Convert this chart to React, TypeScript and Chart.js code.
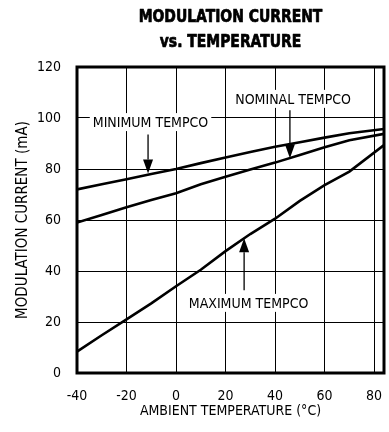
import React, { useEffect, useRef } from "react";
import { Chart, registerables } from "chart.js";

Chart.register(...registerables);

const temps = [-40, -30, -20, -10, 0, 10, 20, 30, 40, 50, 60, 70, 84];
const minimumTempco = [72, 74, 76, 78, 80, 82.3, 84.5, 86.7, 88.7, 90.5, 92.3, 94, 95.7];
const nominalTempco = [59, 62, 65, 67.8, 70.5, 74, 77, 79.8, 82.5, 85.5, 88.5, 91.3, 93.8];
const maximumTempco = [8.4, 14.8, 21, 27.3, 34, 40.5, 47.8, 54.5, 60.5, 67.5, 73.7, 79, 89.4];

const xTicks = [-40, -20, 0, 20, 40, 60, 80];
const yTicks = [0, 20, 40, 60, 80, 100, 120];

const titleLines = ["MODULATION CURRENT", "vs. TEMPERATURE"];
const xTitle = "AMBIENT TEMPERATURE (°C)";
const yTitle = "MODULATION CURRENT (mA)";

// annotation: label text, label center (data), arrow start (data), arrow tip (data)
const annotations = [
  { text: "MINIMUM TEMPCO", lx: -10.3, ly: 98.4, ax: -11.3, ay0: 93.5, ay1: 78.2 },
  { text: "NOMINAL TEMPCO", lx: 47.3, ly: 107.5, ax: 46, ay0: 103, ay1: 84.2 },
  { text: "MAXIMUM TEMPCO", lx: 29.3, ly: 27.5, ax: 27.5, ay0: 32.5, ay1: 52.8 },
];

const FONT = "'Liberation Sans Narrow', 'DejaVu Sans Condensed', 'Liberation Sans', Arial, sans-serif";

const overlayPlugin = {
  id: "overlay",
  afterDatasetsDraw(chart: any) {
    const { ctx, chartArea, scales } = chart;
    const xs = scales.x;
    const ys = scales.y;
    ctx.save();
    // annotations
    ctx.font = `14px ${FONT}`;
    ctx.textAlign = "center";
    ctx.textBaseline = "middle";
    for (const a of annotations) {
      const cx = xs.getPixelForValue(a.lx);
      const cy = ys.getPixelForValue(a.ly);
      const w = ctx.measureText(a.text).width;
      ctx.fillStyle = "#fff";
      ctx.fillRect(cx - w / 2 - 3, cy - 9, w + 6, 18);
      ctx.fillStyle = "#000";
      ctx.fillText(a.text, cx, cy + 1);
      const ax = xs.getPixelForValue(a.ax);
      const y0 = ys.getPixelForValue(a.ay0);
      const y1 = ys.getPixelForValue(a.ay1);
      const dir = y1 > y0 ? 1 : -1;
      const headLen = 14;
      ctx.strokeStyle = "#000";
      ctx.lineWidth = 1.3;
      ctx.beginPath();
      ctx.moveTo(ax, y0);
      ctx.lineTo(ax, y1 - dir * headLen);
      ctx.stroke();
      ctx.beginPath();
      ctx.moveTo(ax, y1);
      ctx.lineTo(ax - 5, y1 - dir * headLen);
      ctx.lineTo(ax + 5, y1 - dir * headLen);
      ctx.closePath();
      ctx.fill();
    }
    // frame
    ctx.strokeStyle = "#000";
    ctx.lineWidth = 3;
    ctx.strokeRect(chartArea.left, chartArea.top, chartArea.right - chartArea.left, chartArea.bottom - chartArea.top);
    // title (condensed, heavy)
    ctx.font = `bold 18px ${FONT}`;
    ctx.fillStyle = "#000";
    ctx.lineWidth = 0.7;
    ctx.lineJoin = "round";
    const tx = (chartArea.left + chartArea.right) / 2;
    ctx.translate(tx, 0);
    ctx.scale(0.86, 1);
    ctx.fillText(titleLines[0], 0, 17);
    ctx.strokeText(titleLines[0], 0, 17);
    ctx.fillText(titleLines[1], 0, 42);
    ctx.strokeText(titleLines[1], 0, 42);
    ctx.restore();
  },
};

export default function App() {
  const ref = useRef<HTMLCanvasElement | null>(null);
  useEffect(() => {
    document.body.style.margin = "0";
    const mk = (label: string, vals: number[]) => ({
      label,
      data: temps.map((t, i) => ({ x: t, y: vals[i] })),
      borderColor: "#000",
      borderWidth: 2.6,
      pointRadius: 0,
      tension: 0,
      fill: false,
    });
    const chart = new Chart(ref.current as HTMLCanvasElement, {
      type: "line",
      data: {
        datasets: [
          mk("MINIMUM TEMPCO", minimumTempco),
          mk("NOMINAL TEMPCO", nominalTempco),
          mk("MAXIMUM TEMPCO", maximumTempco),
        ],
      },
      options: {
        animation: false,
        responsive: false,
        layout: { padding: { top: 67, right: 5, left: 0, bottom: 0 } },
        plugins: { legend: { display: false }, tooltip: { enabled: false }, title: { display: false } },
        scales: {
          x: {
            type: "linear",
            min: -40,
            max: 84,
            afterBuildTicks: (s: any) => {
              s.ticks = xTicks.map((v) => ({ value: v }));
            },
            afterFit: (s: any) => {
              s.height = 59;
              s.paddingLeft = 0;
              s.paddingRight = 0;
            },
            grid: { color: "#000", lineWidth: 1, drawTicks: false },
            border: { display: false },
            ticks: { color: "#000", font: { family: FONT, size: 14 }, padding: 15, maxRotation: 0 },
            title: { display: true, text: xTitle, color: "#000", font: { family: FONT, size: 14 }, padding: { top: 4, bottom: 12 } },
          },
          y: {
            type: "linear",
            min: 0,
            max: 120,
            afterBuildTicks: (s: any) => {
              s.ticks = yTicks.map((v) => ({ value: v }));
            },
            afterFit: (s: any) => {
              s.width = 77;
              s.paddingTop = 0;
              s.paddingBottom = 0;
            },
            grid: { color: "#000", lineWidth: 1, drawTicks: false },
            border: { display: false },
            ticks: { color: "#000", font: { family: FONT, size: 14 }, padding: 16 },
            title: { display: true, text: yTitle, color: "#000", font: { family: FONT, size: 15 }, padding: { bottom: 0, top: 14 } },
          },
        },
      },
      plugins: [overlayPlugin],
    } as any);
    return () => chart.destroy();
  }, []);
  return (
    <div style={{ width: 389, height: 432 }}>
      <canvas ref={ref} width={389} height={432} style={{ display: "block", width: 389, height: 432 }} />
    </div>
  );
}
